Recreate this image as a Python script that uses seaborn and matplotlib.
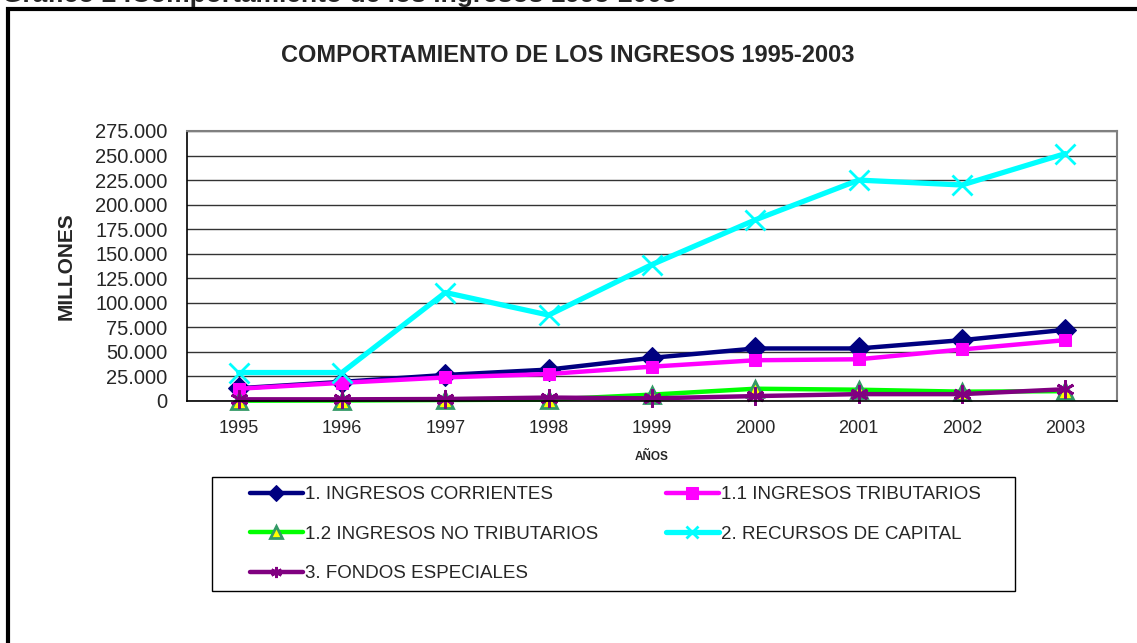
import pandas as pd
import matplotlib
matplotlib.use("Agg")
import matplotlib.pyplot as plt
import seaborn as sns
from matplotlib.patches import Rectangle
from matplotlib.ticker import FuncFormatter, MultipleLocator

# data (millones)
years = [1995, 1996, 1997, 1998, 1999, 2000, 2001, 2002, 2003]
corrientes = [13000, 19500, 26500, 32000, 44000, 53500, 53500, 62000, 72500]
tributarios = [12500, 18500, 24000, 27500, 35000, 41500, 42500, 52500, 62000]
no_tributarios = [300, 500, 1000, 1500, 6500, 12500, 11500, 9500, 10000]
capital = [29000, 29000, 110500, 87500, 139000, 184500, 225000, 220000, 252000]
fondos = [1700, 1700, 2000, 3500, 2700, 5000, 7000, 7000, 12000]

labels = ["1. INGRESOS CORRIENTES", "1.1 INGRESOS TRIBUTARIOS",
          "1.2 INGRESOS NO TRIBUTARIOS", "2. RECURSOS DE CAPITAL",
          "3. FONDOS ESPECIALES"]

sns.set_theme(style="white")
plt.rcParams["font.family"] = ["Liberation Sans", "DejaVu Sans"]

W, H = 1137, 643
fig = plt.figure(figsize=(W / 100, H / 100), dpi=100)
ax = fig.add_axes([187 / W, (H - 401) / H, 930 / W, 270 / H])

# series styles
styles = [
    dict(color="#000080", marker="D", markersize=11, markerfacecolor="#000080",
         markeredgecolor="#000080", linewidth=3.2),
    dict(color="#FF00FF", marker="s", markersize=9, markerfacecolor="#FF00FF",
         markeredgecolor="#FF00FF", linewidth=3.2),
    dict(color="#00FF00", marker="^", markersize=11, markerfacecolor="#FFFF00",
         markeredgecolor="#339966", markeredgewidth=2, linewidth=3.2),
    dict(color="#00FFFF", marker="x", markersize=14, markeredgecolor="#00FFFF",
         markeredgewidth=2, linewidth=3.8),
    dict(color="#800080", marker=(6, 2, 0), markersize=13,
         markeredgecolor="#800080", markeredgewidth=2, linewidth=3.2),
]
series = [corrientes, tributarios, no_tributarios, capital, fondos]

for vals, lab, st in zip(series, labels, styles):
    df = pd.DataFrame({"year": years, "value": vals})
    sns.lineplot(data=df, x="year", y="value", ax=ax, label=lab, clip_on=False,
                 **st)

ax.set_xlim(1994.5, 2003.5)
ax.set_ylim(0, 275000)
ax.yaxis.set_major_locator(MultipleLocator(25000))
ax.yaxis.set_major_formatter(FuncFormatter(lambda v, p: f"{int(v):,}".replace(",", ".")))
ax.set_xticks(years)
ax.set_xticks([y + 0.5 for y in years[:-1]], minor=True)
ax.tick_params(axis="x", which="major", length=0, labelsize=13, pad=14)
ax.tick_params(axis="x", which="minor", length=6, width=1, color="black",
               direction="out")
ax.tick_params(axis="y", length=6, width=1, color="black", direction="out",
               labelsize=14.5, pad=8)
ax.yaxis.grid(True, color="#333333", linewidth=1)
ax.set_axisbelow(True)
for side in ["left", "bottom"]:
    ax.spines[side].set_color("black")
    ax.spines[side].set_linewidth(1.2)
for side in ["top", "right"]:
    ax.spines[side].set_color("#808080")
    ax.spines[side].set_linewidth(1.5)

ax.set_xlabel("AÑOS", fontsize=8.5, fontweight="bold", labelpad=10)
ax.set_ylabel("MILLONES", fontsize=15, fontweight="bold", labelpad=14)

fig.text(568 / W, 1 - 56 / H, "COMPORTAMIENTO DE LOS INGRESOS 1995-2003",
         ha="center", va="center", fontsize=17, fontweight="bold")

# caption cut at the top edge
fig.text(2 / W, 1 - 2 / H, "Gráfico 2 .Comportamiento de los ingresos 1995-2003",
         ha="left", va="baseline", fontsize=19, fontweight="bold")

# outer frame
fig.add_artist(Rectangle((8 / W, -0.2), 1.5, 1.2 - 9 / H, transform=fig.transFigure,
                         fill=False, edgecolor="black", linewidth=3))

# legend frame
fig.add_artist(Rectangle((212 / W, (H - 591) / H), 803 / W, 114 / H,
                         transform=fig.transFigure, fill=False,
                         edgecolor="black", linewidth=1))

ax.get_legend().remove()
handles, labs = ax.get_legend_handles_labels()
order = [0, 2, 4, 1, 3]  # row-wise filling as in the reference
leg = fig.legend([handles[i] for i in order], [labs[i] for i in order],
                 ncol=2, loc="upper left", bbox_to_anchor=(250 / W, 1 - 486 / H),
                 frameon=False, fontsize=13.5, handlelength=2.8,
                 handletextpad=0.15, labelspacing=1.2, borderaxespad=0,
                 borderpad=0, columnspacing=3.6)
for lh in leg.get_lines():
    lh.set_markersize(8)

fig.savefig("out.png", dpi=100)
